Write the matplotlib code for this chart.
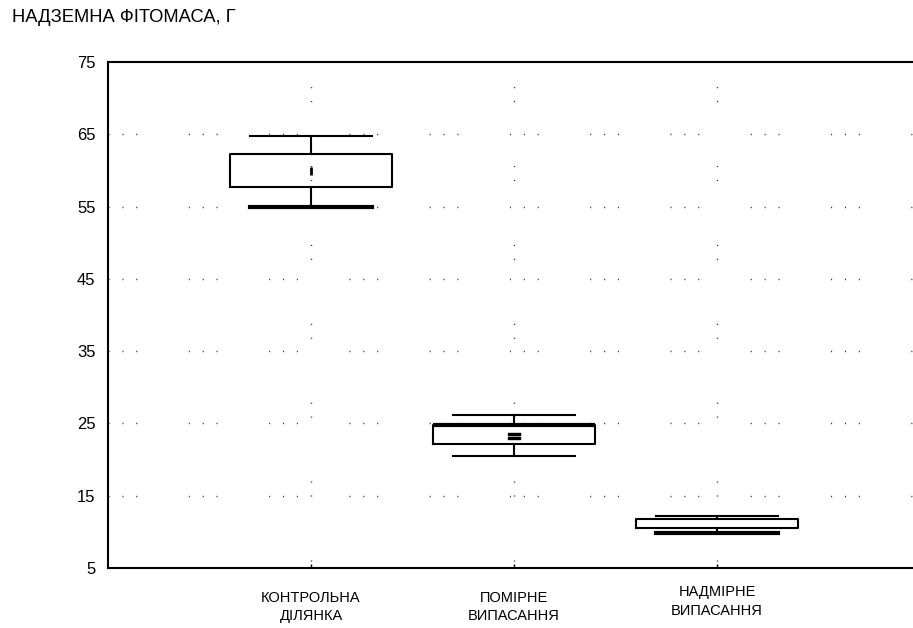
import matplotlib
matplotlib.use("Agg")
import matplotlib.pyplot as plt
import matplotlib.transforms as mtransforms

plt.rcParams['font.family'] = ['Liberation Sans', 'DejaVu Sans']

# data
categories = ["КОНТРОЛЬНА\nДІЛЯНКА", "ПОМІРНЕ\nВИПАСАННЯ", "НАДМІРНЕ\nВИПАСАННЯ"]
q1 = [57.7, 22.2, 10.6]
q3 = [62.3, 24.8, 11.75]
whis_lo = [55.0, 20.5, 9.8]
whis_hi = [64.8, 26.2, 12.25]
medians = [59.9, 23.3, 11.2]
yticks = [5, 15, 25, 35, 45, 55, 65, 75]
title = "НАДЗЕМНА ФІТОМАСА, Г"

positions = [1, 2, 3]
stats = [dict(q1=a, q3=b, whislo=c, whishi=d, med=m, fliers=[])
         for a, b, c, d, m in zip(q1, q3, whis_lo, whis_hi, medians)]

fig = plt.figure(figsize=(9.13, 6.28), dpi=100)
ax = fig.add_axes([108 / 913, 60 / 628, (920 - 108) / 913, (568 - 62) / 628])

dots = (0, (0.8, 9.2, 0.8, 9.2, 0.8, 37.0))
for y in yticks[1:-1]:
    ax.axhline(y, color="#333333", lw=1.0, linestyle=dots, zorder=0)
for x in positions:
    ax.axvline(x, color="#333333", lw=1.0, linestyle=(5, (0.8, 9.2, 0.8, 46.0)), zorder=0)

line = dict(color="black", lw=1.5)
res = ax.bxp(stats, positions=positions, widths=0.8, capwidths=0.6,
             showfliers=False, patch_artist=False,
             boxprops=line, whiskerprops=line, capprops=line,
             medianprops=dict(visible=False))
# heavier lower caps as in the reference
res["caps"][0].set_linewidth(3.0)
res["caps"][4].set_linewidth(3.0)
ax.hlines(q3[1], 2 - 0.4, 2 + 0.4, color="black", lw=3.0)

ax.plot([1], [medians[0]], marker="|", ms=6, mew=2.0, color="black", ls="none")
ax.plot([2], [medians[1]], marker="$=$", ms=9, color="black", ls="none")

ax.set_xlim(0, 4)
ax.set_ylim(5, 75)
ax.set_yticks(yticks)
ax.tick_params(axis="y", length=0, pad=9, labelsize=12)
ax.set_xticks(positions)
ax.set_xticklabels([])
ax.tick_params(axis="x", direction="in", length=3, width=1)
for s in ax.spines.values():
    s.set_linewidth(1.5)

label_dy = [0, 0, 4]
for x, lab, dy in zip(positions, categories, label_dy):
    tr = mtransforms.blended_transform_factory(ax.transData, ax.transAxes)
    tr = tr + mtransforms.ScaledTranslation(0, dy / 72, fig.dpi_scale_trans)
    ax.text(x, -0.045, lab, transform=tr, ha="center", va="top",
            fontsize=10.5, linespacing=1.4)

fig.text(12 / 913, 1 - 18 / 628, title, ha="left", va="center", fontsize=13.2)

fig.savefig("out.png", dpi=100)
